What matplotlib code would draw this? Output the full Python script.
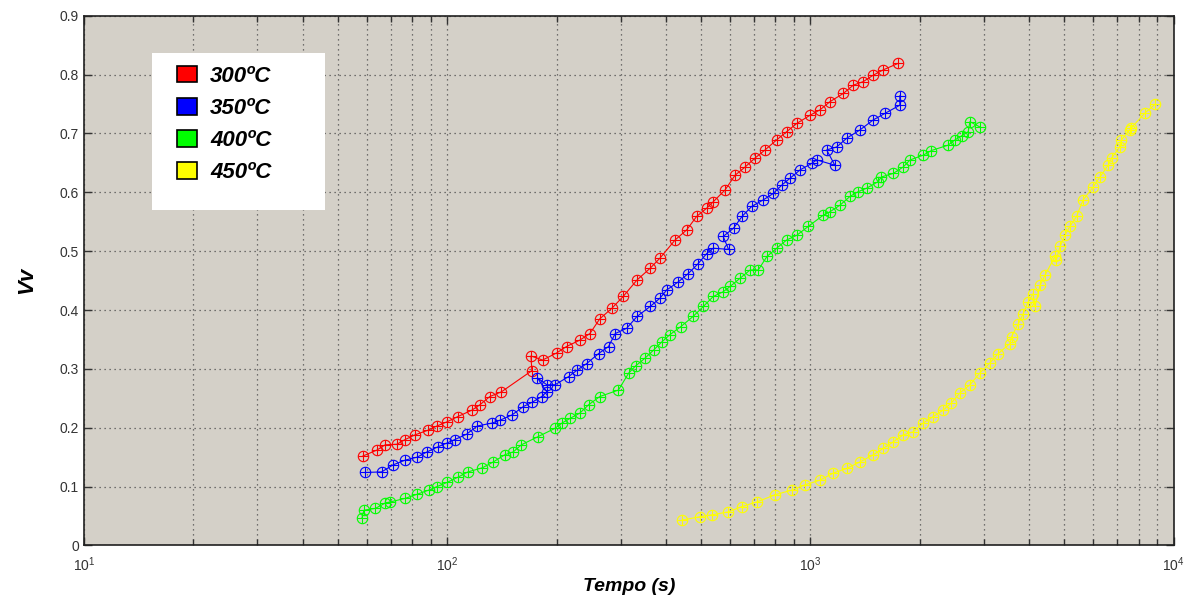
import matplotlib
matplotlib.use("Agg")
import matplotlib.pyplot as plt
from matplotlib.patches import Patch, Rectangle
from matplotlib.ticker import FuncFormatter, LogLocator

# --- data (time in s, Vv) ---
t_300 = [58.6, 64, 67.5, 72.7, 76.6, 81.6, 88.7, 93.7, 99.8, 107, 117, 123, 131, 141,
         171, 170, 183, 200, 213, 232, 247, 263, 284, 305, 333, 362, 385, 424, 456,
         486, 518, 540, 582, 620, 661, 703, 750, 807, 860, 917, 998, 1062, 1132,
         1232, 1312, 1397, 1489, 1586, 1743]
v_300 = [0.152, 0.162, 0.171, 0.172, 0.18, 0.188, 0.196, 0.203, 0.21, 0.219, 0.23, 0.239,
         0.253, 0.261, 0.297, 0.322, 0.315, 0.327, 0.338, 0.349, 0.36, 0.385, 0.403,
         0.423, 0.451, 0.471, 0.488, 0.519, 0.536, 0.559, 0.573, 0.584, 0.604, 0.629,
         0.643, 0.658, 0.672, 0.689, 0.703, 0.717, 0.731, 0.74, 0.754, 0.768, 0.782,
         0.788, 0.799, 0.808, 0.819]

t_350 = [59.4, 66, 71, 76.6, 82.6, 88, 94.6, 99.8, 105, 113, 121, 133, 140, 151, 162,
         171, 182, 188, 177, 188, 198, 216, 228, 242, 261, 278, 290, 312, 333, 362,
         385, 402, 433, 461, 491, 518, 540, 595, 575, 614, 648, 689, 741, 790, 833,
         879, 936, 1007, 1040, 1167, 1108, 1181, 1259, 1369, 1489, 1603, 1762, 1762]
v_350 = [0.124, 0.125, 0.137, 0.145, 0.15, 0.159, 0.168, 0.174, 0.18, 0.189, 0.203,
         0.208, 0.213, 0.222, 0.236, 0.243, 0.253, 0.261, 0.285, 0.273, 0.273, 0.287,
         0.298, 0.309, 0.326, 0.338, 0.36, 0.369, 0.389, 0.406, 0.42, 0.434, 0.448,
         0.462, 0.479, 0.496, 0.505, 0.503, 0.525, 0.539, 0.559, 0.576, 0.587, 0.598,
         0.612, 0.624, 0.638, 0.649, 0.655, 0.646, 0.672, 0.677, 0.692, 0.706, 0.723,
         0.734, 0.748, 0.764]

t_400 = [58.2, 59, 63.4, 67.5, 69.7, 76.6, 82.6, 88.9, 93.7, 99.8, 107, 114, 125, 134,
         144, 152, 160, 178, 198, 207, 218, 232, 245, 263, 296, 316, 330, 350, 370,
         390, 410, 440, 475, 507, 540, 575, 601, 640, 682, 718, 759, 807, 860, 917,
         986, 1084, 1132, 1205, 1285, 1352, 1428, 1535, 1566, 1690, 1800, 1880, 2042,
         2153, 2392, 2499, 2608, 2718, 2747, 2926]
v_400 = [0.046, 0.06, 0.063, 0.072, 0.074, 0.08, 0.087, 0.094, 0.1, 0.107, 0.116, 0.125,
         0.132, 0.142, 0.154, 0.159, 0.171, 0.185, 0.199, 0.208, 0.216, 0.225, 0.239,
         0.253, 0.264, 0.293, 0.305, 0.318, 0.332, 0.346, 0.358, 0.372, 0.389, 0.406,
         0.423, 0.431, 0.44, 0.454, 0.468, 0.468, 0.491, 0.505, 0.519, 0.527, 0.542,
         0.561, 0.567, 0.578, 0.593, 0.601, 0.607, 0.618, 0.626, 0.632, 0.643, 0.655,
         0.663, 0.671, 0.68, 0.689, 0.696, 0.703, 0.72, 0.711]

t_450 = [443, 497, 535, 594, 647, 712, 798, 887, 966, 1062, 1156, 1259, 1369, 1489,
         1586, 1690, 1800, 1918, 2042, 2177, 2319, 2441, 2577, 2747, 2926, 3117, 3287,
         3540, 3579, 3735, 3853, 3975, 4102, 4150, 4285, 4420, 4710, 4753, 4864, 5016,
         5175, 5400, 5630, 5999, 6265, 6597, 6742, 7099, 7175, 7569, 7630, 8310, 8900]
v_450 = [0.043, 0.049, 0.052, 0.057, 0.066, 0.074, 0.086, 0.094, 0.103, 0.111, 0.123,
         0.131, 0.142, 0.154, 0.165, 0.176, 0.188, 0.193, 0.208, 0.219, 0.23, 0.242,
         0.259, 0.273, 0.293, 0.31, 0.326, 0.343, 0.355, 0.377, 0.394, 0.414, 0.428,
         0.406, 0.442, 0.459, 0.491, 0.485, 0.508, 0.527, 0.542, 0.559, 0.587, 0.609,
         0.626, 0.646, 0.658, 0.677, 0.689, 0.706, 0.709, 0.734, 0.75]

labels = ["300ºC", "350ºC", "400ºC", "450ºC"]
colors = ["#ff0000", "#0000ff", "#00ff00", "#ffff00"]
series = [(t_300, v_300), (t_350, v_350), (t_400, v_400), (t_450, v_450)]
y_ticks = [0, 0.1, 0.2, 0.3, 0.4, 0.5, 0.6, 0.7, 0.8, 0.9]

plt.rcParams["font.family"] = ["Liberation Sans", "DejaVu Sans"]

fig = plt.figure(figsize=(11.91, 5.97), dpi=100)
ax = fig.add_axes([0.0705, 0.0863, 0.915, 0.8874])
ax.set_facecolor("#d4d0c8")

for (t, v), c in zip(series, colors):
    ax.plot(t, v, color=c, lw=0.8, marker="o", ms=7.5, mfc="none", mew=0.8, zorder=3)
    ax.plot(t, v, color=c, lw=0, marker="+", ms=7, mew=0.8, zorder=3)

ax.set_xscale("log")
ax.set_xlim(10, 1e4)
ax.set_ylim(0, 0.9)
ax.set_yticks(y_ticks)
ax.yaxis.set_major_formatter(FuncFormatter(lambda v, p: "%g" % v))
ax.xaxis.set_minor_locator(LogLocator(base=10, subs=range(2, 10)))

ax.grid(True, which="both", axis="x", color="#505050", ls=(0, (1, 3)), lw=0.9)
ax.grid(True, which="major", axis="y", color="#505050", ls=(0, (1, 3)), lw=0.9)
ax.tick_params(which="both", direction="in", top=True, right=True,
               labelsize=10, colors="#333333", width=1)
ax.tick_params(which="major", length=6)
ax.tick_params(which="minor", length=4)
ax.tick_params(axis="x", which="major", pad=7)
for s in ax.spines.values():
    s.set_color("#202020")
    s.set_linewidth(1.2)

ax.set_xlabel("Tempo (s)", fontsize=14, fontweight="bold", style="italic", labelpad=3)
ax.set_ylabel("Vv", fontsize=16, fontweight="bold", style="italic", labelpad=16)

# white box behind the legend
ax.add_patch(Rectangle((0.0624, 0.633), 0.1587, 0.2963, transform=ax.transAxes,
                       facecolor="white", edgecolor="none", zorder=4))
handles = [Patch(facecolor=c, edgecolor="black", lw=1.2) for c in colors]
leg = ax.legend(handles, labels, loc="upper left", bbox_to_anchor=(0.085, 0.905),
                frameon=False, prop={"style": "italic", "weight": "bold", "size": 16},
                handlelength=0.9, handleheight=0.75, handletextpad=0.6,
                labelspacing=0.5, borderpad=0, borderaxespad=0)
leg.set_zorder(5)

fig.savefig("out.png", dpi=100)
